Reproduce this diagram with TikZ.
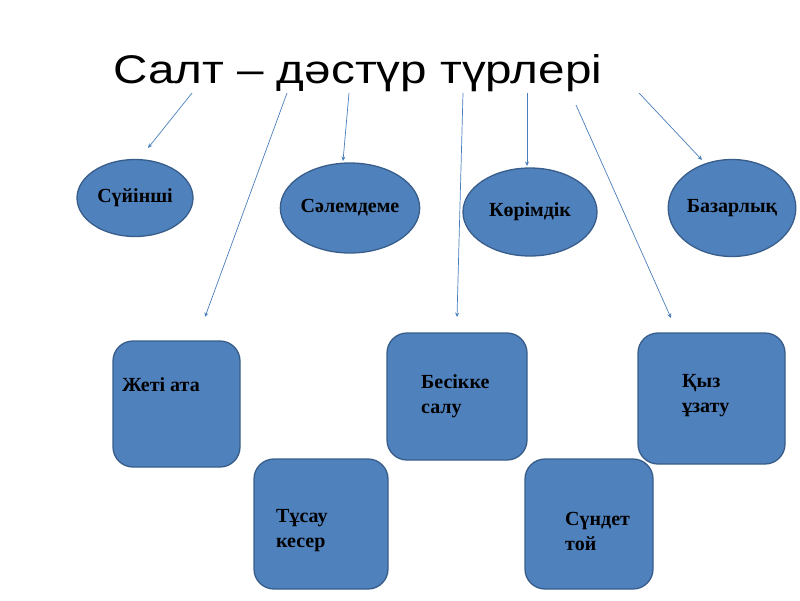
\documentclass[tikz,border=0pt]{standalone}
\usepackage{fontspec}
\setmainfont{Liberation Serif}
\newfontfamily\titlefont{Liberation Sans}
\usetikzlibrary{shapes.geometric,arrows.meta}
\definecolor{boxfill}{HTML}{4F81BD}
\definecolor{boxline}{HTML}{385D8A}
\definecolor{arrline}{HTML}{4A7EBB}

\begin{document}
\begin{tikzpicture}[x=1pt, y=-1pt,
  oval/.style={draw=boxline, line width=1.3pt, fill=boxfill, ellipse, inner sep=0pt, font=\fontsize{20}{24}\selectfont\bfseries},
  card/.style={draw=boxline, line width=1.3pt, fill=boxfill, rectangle, rounded corners=20pt, inner sep=0pt},
  word/.style={inner sep=0pt, anchor=west, align=left, font=\fontsize{20}{25}\selectfont\bfseries},
  arr/.style={draw=arrline, line width=0.7pt, -{Stealth[length=4.5pt,width=4pt]}}]
\useasboundingbox (0,0) rectangle (800,600);
\node[inner sep=0pt, anchor=base west, font=\titlefont\fontsize{40}{48}\selectfont] (title) at (113,83) {\scalebox{1.19}[1]{Салт – дәстүр түрлері}};
% ovals
\node[oval, minimum width=116pt, minimum height=77pt] (suyinshi) at (135,198) {Сүйінші};
\node[oval, minimum width=127pt, minimum height=90pt] (salemdeme) at (350,208) {Сәлемдеме};
\node[oval, minimum width=134pt, minimum height=88pt] (korimdik) at (530,212) {Көрімдік};
\node[oval, minimum width=124pt, minimum height=97pt] (bazarlyk) at (732,208) {Базарлық};
% cards
\node[card, minimum width=127pt, minimum height=126pt] (zheti) at (176.5,404) {};
\node[card, minimum width=134pt, minimum height=130pt] (tusau) at (321,524) {};
\node[card, minimum width=140pt, minimum height=127pt] (besik) at (457,396.5) {};
\node[card, minimum width=147pt, minimum height=131pt] (kyz) at (711.5,398.5) {};
\node[card, minimum width=128pt, minimum height=130pt] (sundet) at (589,524) {};
\node[word] (zheti-t) at (122,385) {Жеті ата};
\node[word] (tusau-t) at (276,531) {Тұсау\\кесер};
\node[word] (besik-t) at (421,396) {Бесікке\\салу};
\node[word] (kyz-t) at (682,396) {Қыз\\ұзату};
\node[word] (sundet-t) at (565,531) {Сүндет\\той};
% arrow ends
\coordinate (s1) at (192,93);
\coordinate (s2) at (287,93);
\coordinate (s3) at (349,93);
\coordinate (s4) at (463,93);
\coordinate (s5) at (527,93);
\coordinate (s6) at (576,105);
\coordinate (s7) at (639,93);
\coordinate (e1) at (148,148);
\coordinate (e2) at (205,317);
\coordinate (e3) at (343,161);
\coordinate (e4) at (457,317);
\coordinate (e5) at (527,166);
\coordinate (e6) at (671,318);
\coordinate (e7) at (702,160);
\draw[arr] (s1) -- (e1);
\draw[arr] (s2) -- (e2);
\draw[arr] (s3) -- (e3);
\draw[arr] (s4) -- (e4);
\draw[arr] (s5) -- (e5);
\draw[arr] (s6) -- (e6);
\draw[arr] (s7) -- (e7);
\end{tikzpicture}
\end{document}
